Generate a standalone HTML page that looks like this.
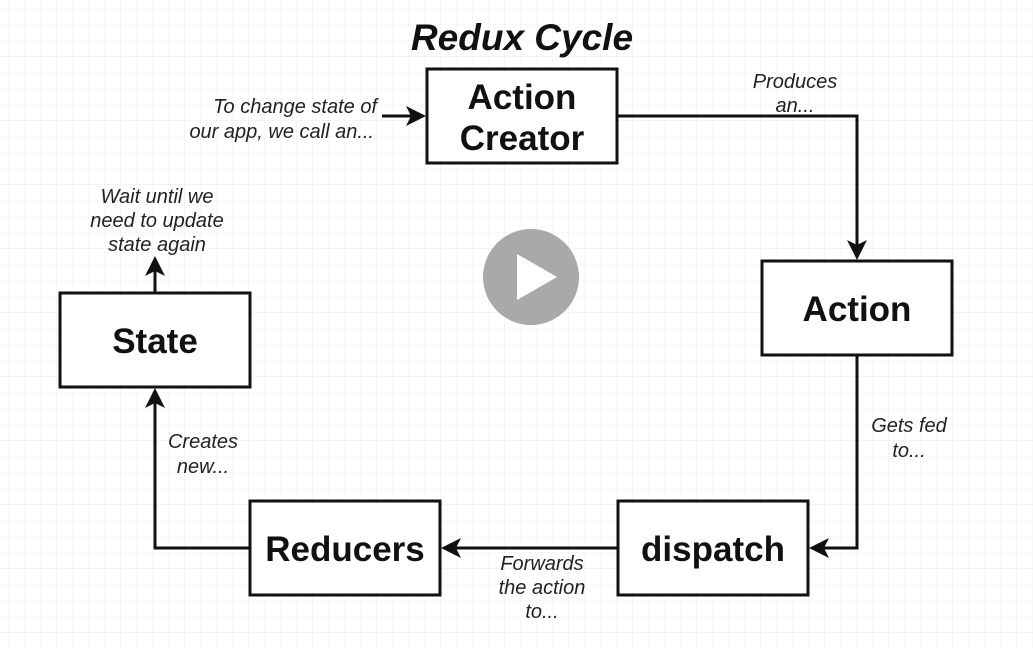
<!DOCTYPE html>
<html><head><meta charset="utf-8"><style>
html,body{margin:0;padding:0;background:#fff;}
svg{display:block;}
text{font-family:"Liberation Sans",sans-serif;}
.b{font-weight:bold;font-size:35px;text-anchor:middle;fill:#111;}
.l{font-style:italic;font-size:20px;fill:#222;}
</style></head><body>
<svg width="1033" height="648" viewBox="0 0 1033 648" xmlns="http://www.w3.org/2000/svg">
<defs>
<pattern id="g" x="-7" y="-7" width="16" height="16" patternUnits="userSpaceOnUse">
<path d="M16 0V16M0 16H16" stroke="#f0f0f0" stroke-width="1" fill="none"/>
</pattern>
<pattern id="G" x="-7" y="-7" width="64" height="64" patternUnits="userSpaceOnUse">
<path d="M64 0V64M0 64H64" stroke="#e8e8e8" stroke-width="1" fill="none"/>
</pattern>
</defs>
<rect width="1033" height="648" fill="#fff"/>
<rect width="1033" height="648" fill="url(#g)"/>
<rect width="1033" height="648" fill="url(#G)"/>

<text x="522" y="50" style="font-weight:bold;font-style:italic;font-size:37px;text-anchor:middle;fill:#111">Redux Cycle</text>

<g fill="#fff" stroke="#111" stroke-width="3">
<rect x="427" y="69" width="190" height="94"/>
<rect x="762" y="261" width="190" height="94"/>
<rect x="618" y="501" width="190" height="94"/>
<rect x="250" y="501" width="190" height="94"/>
<rect x="60" y="293" width="190" height="94"/>
</g>
<text class="b" x="522" y="109">Action</text>
<text class="b" x="522" y="150">Creator</text>
<text class="b" x="857" y="321">Action</text>
<text class="b" x="713" y="561">dispatch</text>
<text class="b" x="345" y="561">Reducers</text>
<text class="b" x="155" y="353">State</text>

<g stroke="#111" stroke-width="3" fill="none">
<path d="M382 116H416"/>
<path d="M618 116H857V246"/>
<path d="M857 356V548H822"/>
<path d="M617 548H454"/>
<path d="M249 548H155V402"/>
<path d="M155 292V270"/>
</g>
<g fill="#111">
<path d="M426 116L406 106L411 116L406 126Z"/>
<path d="M857 260L847 240L857 245L867 240Z"/>
<path d="M809 548L829 538L824 548L829 558Z"/>
<path d="M441 548L461 538L456 548L461 558Z"/>
<path d="M155 388L145 408L155 403L165 408Z"/>
<path d="M155 256L145 276L155 271L165 276Z"/>
</g>

<g class="l">
<text x="377" y="113" text-anchor="end">To change state of</text>
<text x="374" y="138" text-anchor="end">our app, we call an...</text>
<text x="795" y="88" text-anchor="middle">Produces</text>
<text x="795" y="112" text-anchor="middle">an...</text>
<text x="157" y="203" text-anchor="middle">Wait until we</text>
<text x="157" y="227" text-anchor="middle">need to update</text>
<text x="157" y="251" text-anchor="middle">state again</text>
<text x="909" y="432" text-anchor="middle">Gets fed</text>
<text x="909" y="457" text-anchor="middle">to...</text>
<text x="203" y="448" text-anchor="middle">Creates</text>
<text x="203" y="473" text-anchor="middle">new...</text>
<text x="542" y="570" text-anchor="middle">Forwards</text>
<text x="542" y="594" text-anchor="middle">the action</text>
<text x="542" y="618" text-anchor="middle">to...</text>
</g>

<circle cx="531" cy="277" r="48" fill="#a9a9a9"/>
<path d="M517 254L557 277L517 300Z" fill="#fff"/>
</svg>
</body></html>
